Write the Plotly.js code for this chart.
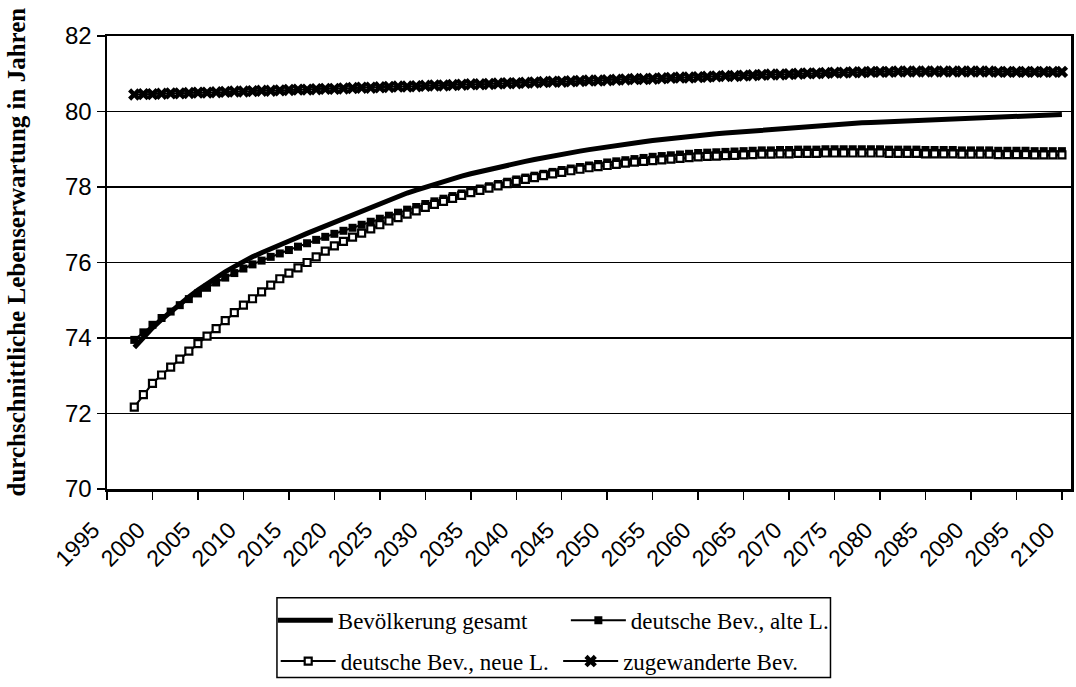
<!DOCTYPE html>
<html>
<head>
<meta charset="utf-8">
<script src="https://cdn.plot.ly/plotly-3.0.1.min.js"></script>
<style>
html,body{margin:0;padding:0;background:#fff;}
#chart{width:1076px;height:687px;}
</style>
</head>
<body>
<div id="chart"></div>
<script>
var years = [1998,1999,2000,2001,2002,2003,2004,2005,2006,2007,2008,2009,2010,2011,2012,2013,2014,2015,2016,2017,2018,2019,2020,2021,2022,2023,2024,2025,2026,2027,2028,2029,2030,2031,2032,2033,2034,2035,2036,2037,2038,2039,2040,2041,2042,2043,2044,2045,2046,2047,2048,2049,2050,2051,2052,2053,2054,2055,2056,2057,2058,2059,2060,2061,2062,2063,2064,2065,2066,2067,2068,2069,2070,2071,2072,2073,2074,2075,2076,2077,2078,2079,2080,2081,2082,2083,2084,2085,2086,2087,2088,2089,2090,2091,2092,2093,2094,2095,2096,2097,2098,2099,2100];

var gesamt = [73.75,74.02,74.27,74.49,74.70,74.90,75.09,75.27,75.44,75.60,75.75,75.89,76.03,76.15,76.26,76.37,76.47,76.57,76.67,76.77,76.87,76.97,77.07,77.17,77.27,77.37,77.47,77.57,77.66,77.75,77.84,77.92,78.00,78.08,78.15,78.22,78.29,78.35,78.41,78.47,78.53,78.58,78.63,78.68,78.73,78.78,78.83,78.87,78.91,78.95,78.99,79.03,79.07,79.11,79.14,79.17,79.20,79.23,79.26,79.29,79.32,79.35,79.37,79.39,79.41,79.43,79.45,79.47,79.49,79.51,79.53,79.55,79.57,79.59,79.61,79.62,79.64,79.65,79.67,79.68,79.70,79.71,79.72,79.73,79.74,79.75,79.76,79.77,79.78,79.79,79.80,79.81,79.82,79.83,79.84,79.85,79.86,79.87,79.88,79.89,79.90,79.91,79.92];

var alteL = [73.95,74.15,74.35,74.53,74.70,74.87,75.03,75.18,75.33,75.47,75.60,75.72,75.84,75.95,76.05,76.15,76.24,76.33,76.42,76.51,76.60,76.68,76.76,76.84,76.92,77.00,77.08,77.16,77.24,77.32,77.40,77.47,77.55,77.62,77.69,77.76,77.83,77.90,77.96,78.02,78.08,78.14,78.20,78.25,78.30,78.35,78.40,78.45,78.49,78.53,78.57,78.61,78.65,78.68,78.71,78.74,78.77,78.80,78.82,78.84,78.86,78.88,78.90,78.91,78.92,78.93,78.94,78.95,78.96,78.97,78.97,78.98,78.98,78.99,78.99,78.99,79.00,79.00,79.00,79.00,79.00,79.00,79.00,78.99,78.99,78.99,78.99,78.98,78.98,78.98,78.98,78.97,78.97,78.97,78.97,78.96,78.96,78.96,78.96,78.95,78.95,78.95,78.95];

var neueL = [72.17,72.50,72.80,73.02,73.23,73.44,73.65,73.85,74.05,74.25,74.46,74.67,74.87,75.04,75.22,75.40,75.57,75.72,75.86,76.00,76.15,76.30,76.44,76.56,76.67,76.78,76.89,77.00,77.10,77.19,77.28,77.37,77.46,77.54,77.62,77.70,77.78,77.85,77.91,77.97,78.03,78.09,78.15,78.20,78.25,78.30,78.35,78.39,78.43,78.47,78.51,78.54,78.57,78.60,78.63,78.66,78.68,78.70,78.72,78.74,78.76,78.78,78.80,78.81,78.82,78.83,78.84,78.85,78.86,78.87,78.87,78.88,78.88,78.89,78.89,78.89,78.90,78.90,78.90,78.90,78.90,78.90,78.90,78.89,78.89,78.89,78.89,78.88,78.88,78.88,78.88,78.87,78.87,78.87,78.87,78.86,78.86,78.86,78.86,78.85,78.85,78.85,78.85];

var zugewandert = [80.45,80.46,80.46,80.47,80.48,80.48,80.49,80.50,80.50,80.51,80.52,80.53,80.53,80.54,80.55,80.55,80.56,80.57,80.58,80.58,80.59,80.60,80.60,80.61,80.62,80.63,80.63,80.64,80.65,80.66,80.66,80.67,80.68,80.69,80.69,80.70,80.71,80.72,80.72,80.73,80.74,80.75,80.75,80.76,80.77,80.78,80.79,80.79,80.80,80.81,80.82,80.82,80.83,80.84,80.85,80.86,80.86,80.87,80.88,80.89,80.90,80.90,80.91,80.92,80.93,80.94,80.94,80.95,80.96,80.97,80.98,80.98,80.99,81.00,81.01,81.01,81.02,81.03,81.03,81.04,81.04,81.05,81.05,81.05,81.06,81.06,81.06,81.06,81.06,81.06,81.06,81.06,81.06,81.06,81.06,81.05,81.05,81.05,81.05,81.05,81.05,81.05,81.05];

var seriesNames = ["Bevölkerung gesamt","deutsche Bev., alte L.","deutsche Bev., neue L.","zugewanderte Bev."];
var xTickVals = [1995,2000,2005,2010,2015,2020,2025,2030,2035,2040,2045,2050,2055,2060,2065,2070,2075,2080,2085,2090,2095,2100];
var yTickVals = [70,72,74,76,78,80,82];
var yTitle = "durchschnittliche Lebenserwartung in Jahren";

var traces = [
  {x: years, y: zugewandert, name: seriesNames[3], type: 'scatter', mode: 'lines+markers', legend: 'legend4',
   line: {color: '#000', width: 2}, marker: {symbol: 'x', size: 11, color: '#000'}},
  {x: years, y: alteL, name: seriesNames[1], type: 'scatter', mode: 'lines+markers', legend: 'legend2',
   line: {color: '#000', width: 2}, marker: {symbol: 'square', size: 8, color: '#000'}},
  {x: years, y: neueL, name: seriesNames[2], type: 'scatter', mode: 'lines+markers', legend: 'legend3',
   line: {color: '#000', width: 2}, marker: {symbol: 'square', size: 7, color: '#fff', line: {color: '#000', width: 2.2}}},
  {x: years, y: gesamt, name: seriesNames[0], type: 'scatter', mode: 'lines', legend: 'legend',
   line: {color: '#000', width: 5}}
];

var legFont = {family: 'Liberation Serif, Times New Roman, serif', size: 23, color: '#000'};
function leg(x, y) {
  return {orientation: 'h', x: x, xanchor: 'left', y: y, yanchor: 'middle',
          bgcolor: 'rgba(0,0,0,0)', borderwidth: 0, font: legFont, itemwidth: 55};
}

var layout = {
  width: 1076, height: 687,
  margin: {l: 107, r: 5, t: 36, b: 194},
  paper_bgcolor: '#fff', plot_bgcolor: '#fff',
  showlegend: true,
  xaxis: {
    range: [1995, 2101], tickmode: 'array', tickvals: xTickVals,
    tickangle: -45, ticks: 'outside', ticklen: 8, tickwidth: 1.5, tickcolor: '#000',
    showgrid: false, zeroline: false, showline: true, linecolor: '#000', linewidth: 2.5, mirror: true,
    tickfont: {family: 'Liberation Sans, Arial, sans-serif', size: 23, color: '#000'},
    ticklabelstandoff: 8, ticklabelshift: -14
  },
  yaxis: {
    range: [70, 82], tickmode: 'array', tickvals: yTickVals,
    ticks: 'outside', ticklen: 8, tickwidth: 1.5, tickcolor: '#000',
    showgrid: true, gridcolor: '#000', gridwidth: 1.5, zeroline: false,
    showline: true, linecolor: '#000', linewidth: 2.5, mirror: true,
    tickfont: {family: 'Liberation Sans, Arial, sans-serif', size: 24, color: '#000'}
  },
  legend: leg(0.172, -0.290),
  legend2: leg(0.476, -0.290),
  legend3: leg(0.175, -0.380),
  legend4: leg(0.468, -0.380),
  shapes: [{
    type: 'rect', xref: 'paper', yref: 'paper',
    x0: 0.1763, x1: 0.7505, y0: -0.416, y1: -0.240,
    line: {color: '#000', width: 1.5}, fillcolor: 'rgba(0,0,0,0)', layer: 'above'
  }],
  annotations: [{
    text: '<b>' + yTitle + '</b>', textangle: -90, showarrow: false,
    xref: 'paper', yref: 'paper', x: -0.094, y: 0.523, xanchor: 'center', yanchor: 'middle',
    font: {family: 'Liberation Serif, Times New Roman, serif', size: 25, color: '#000'}
  }]
};

Plotly.newPlot('chart', traces, layout, {displayModeBar: false, staticPlot: true});
</script>
</body>
</html>
